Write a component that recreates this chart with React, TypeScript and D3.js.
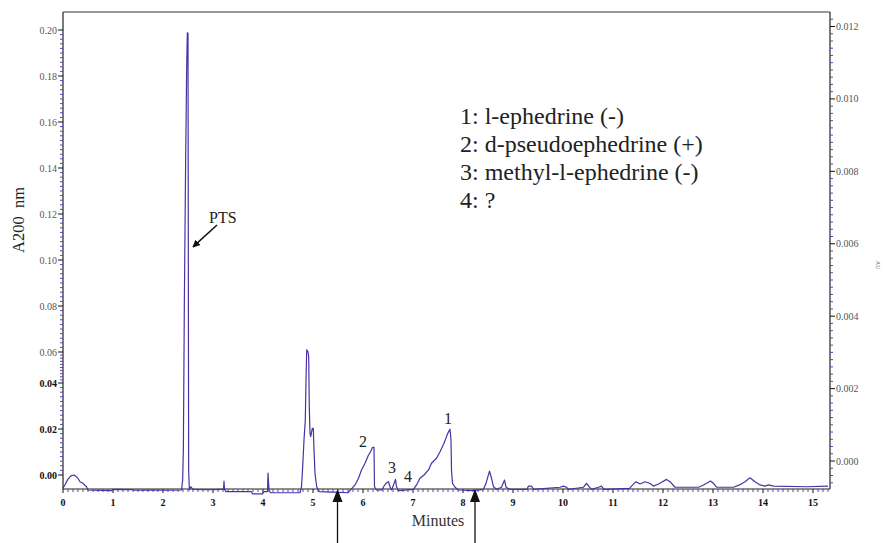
import React from "react";
import * as d3 from "d3";

// chromatogram trace: retention time (min) and absorbance read on the left axis
const times = [
  0.0, 0.04, 0.1, 0.16, 0.22, 0.27, 0.3, 0.34, 0.4, 0.47, 0.5, 0.75, 0.98, 1.0, 1.4, 1.42, 1.8, 2.1, 2.37,
  2.393, 2.407, 2.427, 2.453, 2.473, 2.487, 2.5, 2.513, 2.527, 2.553, 2.6, 2.9, 3.18, 3.21, 3.22, 3.23,
  3.26, 3.77, 3.79, 3.99, 4.02, 4.09, 4.1, 4.12, 4.15, 4.74, 4.77, 4.794, 4.82, 4.846, 4.86, 4.874, 4.9,
  4.914, 4.926, 4.94, 4.954, 4.986, 5.006, 5.02, 5.04, 5.074, 5.126, 5.4, 5.7, 5.77, 5.84, 5.91, 5.97,
  6.04, 6.11, 6.15, 6.19, 6.22, 6.23, 6.27, 6.38, 6.41, 6.46, 6.51, 6.54, 6.57, 6.61, 6.65, 6.67, 6.71,
  7.01, 7.07, 7.14, 7.22, 7.31, 7.37, 7.47, 7.54, 7.62, 7.67, 7.71, 7.74, 7.76, 7.77, 7.79, 7.84, 7.91,
  8.2, 8.41, 8.46, 8.53, 8.57, 8.61, 8.67, 8.77, 8.83, 8.86, 8.94, 9.28, 9.31, 9.37, 9.41, 9.94, 10.01,
  10.07, 10.11, 10.41, 10.47, 10.53, 10.57, 10.71, 10.77, 10.82, 11.33, 11.37, 11.46, 11.54, 11.64,
  11.73, 11.81, 11.91, 11.99, 12.07, 12.14, 12.24, 12.41, 12.71, 12.81, 12.95, 13.01, 13.07, 13.41,
  13.53, 13.64, 13.74, 13.84, 13.94, 14.04, 14.11, 14.21, 14.87, 15.3,
];
const absorbance = [
  -0.0057, -0.0042, -0.0018, -0.0004, 0.0, -0.0008, -0.0015, -0.0029, -0.0036, -0.0051, -0.0065, -0.0067,
  -0.0068, -0.0062, -0.0063, -0.0066, -0.0065, -0.0066, -0.0065,
  -0.0022, 0.0109, 0.0813, 0.1435, 0.1826, 0.1988, 0.1986, 0.0022, -0.0065, -0.0051, -0.0062, -0.0064,
  -0.0062, -0.0062, -0.0026, -0.0062,
  -0.0072, -0.0072, -0.0082, -0.0082, -0.0072, -0.0072, 0.0008, -0.0065, -0.0077, -0.0077, -0.0051,
  0.0036, 0.0152, 0.0239, 0.0419, 0.0609, 0.0601,
  0.057, 0.0297, 0.0181, 0.0167, 0.0203, 0.0203, 0.0109, 0.0007, -0.0051, -0.0072, -0.0074, -0.0077,
  -0.006, -0.0043, -0.0014, 0.0022,
  0.0051, 0.0087, 0.0101, 0.012, 0.012, -0.0051, -0.0065, -0.0065, -0.0051, -0.0036, -0.0029, -0.0051,
  -0.0065, -0.0043, -0.0019, -0.0051, -0.0068,
  -0.0062, -0.0043, -0.0014, 0.0, 0.0022, 0.0051, 0.0073, 0.0101, 0.0138, 0.0167, 0.0188, 0.0199, 0.0152,
  0.0022, -0.0036, -0.0053, -0.0065,
  -0.0068, -0.0062, -0.0036, 0.0017, -0.0014, -0.0051, -0.0062, -0.0053, -0.0022, -0.0053, -0.0062,
  -0.0062, -0.0048, -0.0048, -0.0062, -0.0053, -0.0048,
  -0.0053, -0.0062, -0.0053, -0.0036, -0.0053, -0.0062, -0.0053, -0.0048, -0.0062, -0.0058, -0.0048,
  -0.0029, -0.0039, -0.0029,
  -0.0036, -0.0048, -0.0039, -0.0029, -0.0019, -0.0029, -0.0053, -0.0053, -0.0053, -0.0043, -0.0026,
  -0.0036, -0.0053, -0.0053,
  -0.0043, -0.0029, -0.0012, -0.0029, -0.0043, -0.0048, -0.0043, -0.0048, -0.0051, -0.0048,
];

const xTicks = [0, 1, 2, 3, 4, 5, 6, 7, 8, 9, 10, 11, 12, 13, 14, 15];
const leftTicks = [0.2, 0.18, 0.16, 0.14, 0.12, 0.1, 0.08, 0.06, 0.04, 0.02, 0.0];
const leftBoldTicks = [0.04, 0.02, 0.0];
const rightTicks = [0.012, 0.01, 0.008, 0.006, 0.004, 0.002, 0.0];

const legendLines = [
  "1: l-ephedrine (-)",
  "2: d-pseudoephedrine (+)",
  "3: methyl-l-ephedrine (-)",
  "4: ?",
];
const peakLabels = ["1", "2", "3", "4"];
const peakTimes = [7.7, 6.0, 6.58, 6.9];
const peakValues = [0.0222, 0.0122, 0.0009, -0.003];
const cutTimes = [5.49, 8.24];

const W = 883;
const H = 543;
const left = 63;
const right = 830;
const top = 12;
const bottom = 489;
const serif = "'Liberation Serif', 'Times New Roman', serif";
const traceColor = "#4b30a5";
const minorColor = "#5a44b0";

export default function App() {
  const x = d3.scaleLinear().domain([0, 15.34]).range([left, right]);
  // the left axis of the original figure is not uniform near the bottom
  const y = d3
    .scaleLinear()
    .domain([-0.0065, 0, 0.04, 0.06, 0.2])
    .range([490, 475, 383, 352, 30]);
  const yR = d3.scaleLinear().domain([-0.0008, 0.0124]).range([490, 12]);

  const line = d3
    .line<number>()
    .x((d) => x(d))
    .y((_, i) => y(absorbance[i]));

  const xMinor = d3.range(1, 154).map((i) => i / 10).filter((t) => Math.abs(t - Math.round(t)) > 1e-6);
  const yMinor = d3.range(1, 100).map((i) => i * 0.002).filter((v) => Math.round(v * 1000) % 20 !== 0);
  const rMinor = d3.range(-3, 62).map((i) => i * 0.0002).filter((v) => Math.round(v * 10000) % 20 !== 0);

  const pts = { t: 2.6, v: 0.1057 };

  return (
    <svg
      width={W}
      height={H}
      style={{ position: "absolute", left: 0, top: 0, display: "block", background: "#fff" }}
      fontFamily={serif}
    >
      <defs>
        <marker id="head" viewBox="0 0 10 10" refX="9" refY="5" markerWidth="5" markerHeight="5" orient="auto">
          <path d="M0,0 L10,5 L0,10 z" fill="#111" />
        </marker>
      </defs>

      {/* frame */}
      <line x1={left} x2={right} y1={top} y2={top} stroke="#333" strokeWidth={1} />
      <line x1={left} x2={left} y1={top} y2={bottom} stroke="#222" strokeWidth={1.2} />
      <line x1={right} x2={right} y1={top} y2={bottom} stroke="#222" strokeWidth={1.2} />
      <line x1={left} x2={right} y1={bottom} y2={bottom} stroke="#222" strokeWidth={1.2} />

      {/* x axis */}
      {xMinor.map((t) => (
        <line key={"xm" + t} x1={x(t)} x2={x(t)} y1={bottom} y2={bottom + 3} stroke={minorColor} strokeWidth={1} />
      ))}
      {xTicks.map((t) => (
        <g key={"x" + t}>
          <line x1={x(t)} x2={x(t)} y1={bottom} y2={bottom + 4} stroke="#111" strokeWidth={1} />
          <text x={x(t)} y={506} textAnchor="middle" fontSize={10} fontWeight="bold" fill="#111">
            {t}
          </text>
        </g>
      ))}
      <text x={438} y={526} textAnchor="middle" fontSize={16} fill="#333">
        Minutes
      </text>

      {/* left axis */}
      {yMinor.map((v) => (
        <line key={"ym" + v} x1={left - 3} x2={left} y1={y(v)} y2={y(v)} stroke={minorColor} strokeWidth={1} />
      ))}
      {leftTicks.map((v) => {
        const bold = leftBoldTicks.includes(v);
        return (
          <g key={"y" + v}>
            <line x1={left - 5} x2={left} y1={y(v)} y2={y(v)} stroke="#111" strokeWidth={1} />
            <text
              x={57}
              y={y(v)}
              dy="0.35em"
              textAnchor="end"
              fontSize={10}
              fontWeight={bold ? "bold" : "normal"}
              fill={bold ? "#111" : "#555"}
            >
              {v.toFixed(2)}
            </text>
          </g>
        );
      })}
      <text transform="translate(24,220) rotate(-90)" textAnchor="middle" fontSize={16.5} fill="#222">
        {"A200\u00a0\u00a0nm"}
      </text>

      {/* right axis */}
      {rMinor.map((v) => (
        <line key={"rm" + v} x1={right} x2={right + 3} y1={yR(v)} y2={yR(v)} stroke={minorColor} strokeWidth={1} />
      ))}
      {rightTicks.map((v) => (
        <g key={"r" + v}>
          <line x1={right} x2={right + 5} y1={yR(v)} y2={yR(v)} stroke="#111" strokeWidth={1} />
          <text x={836} y={yR(v)} dy="0.35em" fontSize={10} fill="#555">
            {v.toFixed(3)}
          </text>
        </g>
      ))}
      <text transform="translate(876,265) rotate(90)" textAnchor="middle" fontSize={6} fill="#666">
        AU
      </text>

      {/* trace */}
      <path d={line(times) ?? ""} fill="none" stroke={traceColor} strokeWidth={1.2} strokeLinejoin="round" />

      {/* peak labels */}
      {peakLabels.map((p, i) => (
        <text key={p} x={x(peakTimes[i])} y={y(peakValues[i])} textAnchor="middle" fontSize={16} fill="#222">
          {p}
        </text>
      ))}

      {/* PTS annotation */}
      <text x={209} y={223} fontSize={16} fill="#222">
        PTS
      </text>
      <line
        x1={217}
        y1={225}
        x2={x(pts.t)}
        y2={y(pts.v)}
        stroke="#111"
        strokeWidth={1.5}
        markerEnd="url(#head)"
      />

      {/* fraction cut arrows */}
      {cutTimes.map((t) => (
        <g key={"c" + t}>
          <line x1={x(t)} x2={x(t)} y1={H} y2={bottom + 10} stroke="#111" strokeWidth={1.3} />
          <path
            d={`M${x(t)},${bottom} L${x(t) - 5},${bottom + 13} L${x(t) + 5},${bottom + 13} Z`}
            fill="#111"
          />
        </g>
      ))}

      {/* legend */}
      {legendLines.map((s, i) => (
        <text key={s} x={460} y={124 + i * 28} fontSize={24} fill="#222">
          {s}
        </text>
      ))}
    </svg>
  );
}
